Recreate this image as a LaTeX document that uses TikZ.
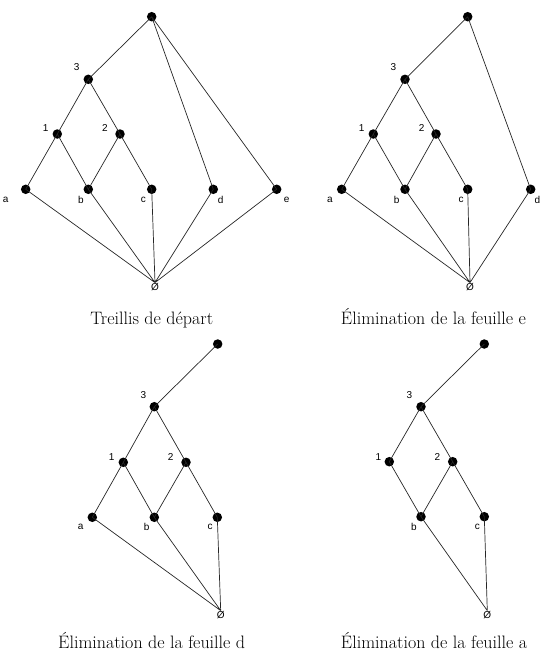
\documentclass[tikz,border=0pt]{standalone}
\usepackage{fontspec}
\newfontfamily\labfont{Liberation Sans}
\tikzset{
  dot/.style={circle,fill=black,inner sep=0pt,minimum size=9.5pt},
  lab/.style={font=\labfont\fontsize{10}{11}\selectfont,inner sep=0pt},
  bot/.style={font=\labfont\fontsize{10}{11}\selectfont,inner sep=0.5pt},
  captext/.style={font=\fontsize{18}{21}\selectfont,anchor=base,inner sep=0pt},
  conn/.style={draw=black!85,line width=0.7pt}
}
\begin{document}
\begin{tikzpicture}[x=1pt,y=-1pt]
\useasboundingbox (0,0) rectangle (553,654);
% ---------- Panel 1 ----------
\node[dot] (At) at (151.7,16.7) {};
\node[dot] (A3) at (88.3,79.3) {};
\node[dot] (A1) at (57.3,134) {};
\node[dot] (A2) at (120,134) {};
\node[dot] (Aa) at (25.7,189.3) {};
\node[dot] (Ab) at (88.3,189.3) {};
\node[dot] (Ac) at (151.7,189.3) {};
\node[dot] (Ad) at (213.3,189.3) {};
\node[dot] (Ae) at (276.7,189.3) {};
\node[bot] (Az) at (155,287) {Ø};
\node[lab] (AL3) at (76.7,66.7) {3};
\node[lab] (AL1) at (45.7,128.3) {1};
\node[lab] (AL2) at (105,128.3) {2};
\node[lab] (ALa) at (5.7,200) {a};
\node[lab] (ALb) at (81,200) {b};
\node[lab] (ALc) at (143.3,200) {c};
\node[lab] (ALd) at (220.7,200) {d};
\node[lab] (ALe) at (286.7,200) {e};
\node[captext] (Acap) at (151.7,324) {Treillis de départ};
\path[conn] (At.center) -- (A3.center) (At.center) -- (Ad.center) (At.center) -- (Ae.center)
  (A3.center) -- (A1.center) (A3.center) -- (A2.center)
  (A1.center) -- (Aa.center) (A1.center) -- (Ab.center)
  (A2.center) -- (Ab.center) (A2.center) -- (Ac.center)
  (Aa.center) -- (Az.north) (Ab.center) -- (Az.north) (Ac.center) -- (Az.north)
  (Ad.center) -- (Az.north) (Ae.center) -- (Az.north);
% ---------- Panel 2 ----------
\node[dot] (Bt) at (467.7,16.7) {};
\node[dot] (B3) at (405,79.3) {};
\node[dot] (B1) at (373.3,134) {};
\node[dot] (B2) at (436,134) {};
\node[dot] (Ba) at (341.7,189.3) {};
\node[dot] (Bb) at (405,189.3) {};
\node[dot] (Bc) at (467.7,189.3) {};
\node[dot] (Bd) at (530.7,189.3) {};
\node[bot] (Bz) at (470,287) {Ø};
\node[lab] (BL3) at (393.3,66.7) {3};
\node[lab] (BL1) at (361.7,128.3) {1};
\node[lab] (BL2) at (421.7,128.3) {2};
\node[lab] (BLa) at (330,200) {a};
\node[lab] (BLb) at (396.7,200) {b};
\node[lab] (BLc) at (461,200) {c};
\node[lab] (BLd) at (537.3,200) {d};
\node[captext] (Bcap) at (433.5,324) {Élimination de la feuille e};
\path[conn] (Bt.center) -- (B3.center) (Bt.center) -- (Bd.center)
  (B3.center) -- (B1.center) (B3.center) -- (B2.center)
  (B1.center) -- (Ba.center) (B1.center) -- (Bb.center)
  (B2.center) -- (Bb.center) (B2.center) -- (Bc.center)
  (Ba.center) -- (Bz.north) (Bb.center) -- (Bz.north) (Bc.center) -- (Bz.north)
  (Bd.center) -- (Bz.north);
% ---------- Panel 3 ----------
\node[dot] (Ct) at (217.7,344) {};
\node[dot] (C3) at (154.3,406.7) {};
\node[dot] (C1) at (123.3,462.3) {};
\node[dot] (C2) at (186,462.3) {};
\node[dot] (Ca) at (92.3,517.3) {};
\node[dot] (Cb) at (154.3,517.3) {};
\node[dot] (Cc) at (217.3,517.3) {};
\node[bot] (Cz) at (220.7,615) {Ø};
\node[lab] (CL3) at (143.3,395) {3};
\node[lab] (CL1) at (111.7,456.7) {1};
\node[lab] (CL2) at (170.7,456.7) {2};
\node[lab] (CLa) at (80.7,527.3) {a};
\node[lab] (CLb) at (146.7,527.3) {b};
\node[lab] (CLc) at (210,527.3) {c};
\node[captext] (Ccap) at (151.7,648) {Élimination de la feuille d};
\path[conn] (Ct.center) -- (C3.center)
  (C3.center) -- (C1.center) (C3.center) -- (C2.center)
  (C1.center) -- (Ca.center) (C1.center) -- (Cb.center)
  (C2.center) -- (Cb.center) (C2.center) -- (Cc.center)
  (Ca.center) -- (Cz.north) (Cb.center) -- (Cz.north) (Cc.center) -- (Cz.north);
% ---------- Panel 4 ----------
\node[dot] (Dt) at (484.3,344) {};
\node[dot] (D3) at (421,406.7) {};
\node[dot] (D1) at (389.3,461.7) {};
\node[dot] (D2) at (452.7,461.7) {};
\node[dot] (Db) at (421,516.7) {};
\node[dot] (Dc) at (484.3,516.7) {};
\node[bot] (Dz) at (487.3,615) {Ø};
\node[lab] (DL3) at (409.3,395) {3};
\node[lab] (DL1) at (378.3,456.7) {1};
\node[lab] (DL2) at (437.3,456.7) {2};
\node[lab] (DLb) at (414,526.7) {b};
\node[lab] (DLc) at (477.3,526.7) {c};
\node[captext] (Dcap) at (434,648) {Élimination de la feuille a};
\path[conn] (Dt.center) -- (D3.center)
  (D3.center) -- (D1.center) (D3.center) -- (D2.center)
  (D1.center) -- (Db.center)
  (D2.center) -- (Db.center) (D2.center) -- (Dc.center)
  (Db.center) -- (Dz.north) (Dc.center) -- (Dz.north);
\end{tikzpicture}
\end{document}
